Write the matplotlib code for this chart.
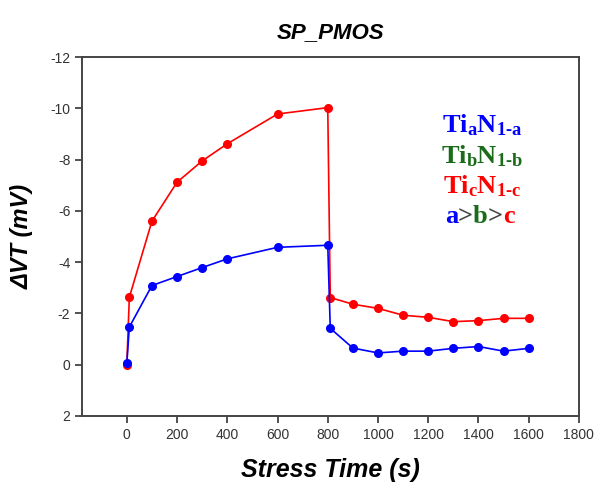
import matplotlib
matplotlib.use('Agg')
import matplotlib.pyplot as plt
from matplotlib.offsetbox import TextArea, HPacker, AnchoredOffsetbox

plt.rcParams['font.family'] = ['Liberation Sans', 'DejaVu Sans']
plt.rcParams['axes.unicode_minus'] = False
plt.rcParams['mathtext.fontset'] = 'custom'
plt.rcParams['mathtext.rm'] = 'Liberation Serif:bold'
plt.rcParams['mathtext.bf'] = 'Liberation Serif:bold'
plt.rcParams['mathtext.it'] = 'Liberation Serif:bold'

# stress time (s)
time = [0, 10, 100, 200, 300, 400, 600, 800, 810, 900, 1000, 1100, 1200, 1300, 1400, 1500, 1600]
# delta VT (mV)
dvt_a = [-0.05, -1.47, -3.09, -3.44, -3.79, -4.13, -4.58, -4.66, -1.42, -0.65, -0.46, -0.53, -0.53, -0.64, -0.71, -0.53, -0.64]
dvt_c = [0.0, -2.63, -5.6, -7.12, -7.95, -8.62, -9.78, -10.03, -2.62, -2.36, -2.2, -1.93, -1.85, -1.68, -1.72, -1.81, -1.81]

xticks = [0, 200, 400, 600, 800, 1000, 1200, 1400, 1600, 1800]
yticks = [-12, -10, -8, -6, -4, -2, 0, 2]

labels = [(r'$\mathrm{Ti_{a}N_{1\text{-}a}}$', '#0000ff'),
          (r'$\mathrm{Ti_{b}N_{1\text{-}b}}$', '#1a6b1a'),
          (r'$\mathrm{Ti_{c}N_{1\text{-}c}}$', '#ff0000')]

fig = plt.figure(figsize=(5.95, 4.84), dpi=100)
ax = fig.add_axes([0.138, 0.1405, 0.835, 0.7415])

ax.plot(time, dvt_c, '-o', color='#ff0000', lw=1.2, markersize=5.5)
ax.plot(time, dvt_a, '-o', color='#0000ff', lw=1.2, markersize=5.5)

ax.set_xlim(-178, 1800)
ax.set_ylim(2, -12)
ax.set_xticks(xticks)
ax.set_yticks(yticks)
ax.tick_params(direction='out', length=5, width=1.2, labelsize=10,
               colors='#333333', top=False, right=False)
for s in ax.spines.values():
    s.set_linewidth(1.4)
    s.set_color('#444444')

ax.set_title('SP_PMOS', fontsize=16, fontweight='bold', fontstyle='italic', pad=14)
ax.set_xlabel('Stress Time (s)', fontsize=18, fontweight='bold', fontstyle='italic', labelpad=12)
ax.set_ylabel(r'ΔVT (mV)', fontsize=17, fontweight='bold', fontstyle='italic', labelpad=12)

# composition labels
for i, (txt, col) in enumerate(labels):
    ax.text(0.805, 0.81 - 0.085 * i, txt, transform=ax.transAxes,
            color=col, fontsize=19, ha='center', va='center')

parts = [('a', '#0000ff'), ('>', '#444444'), ('b', '#1a6b1a'), ('>', '#444444'), ('c', '#ff0000')]
boxes = [TextArea(t, textprops=dict(color=c, fontsize=19, fontweight='bold',
                                    family='Liberation Serif')) for t, c in parts]
pack = HPacker(children=boxes, pad=0, sep=0, align='baseline')
anch = AnchoredOffsetbox(loc='center', child=pack, frameon=False,
                         bbox_to_anchor=(0.8, 0.555), bbox_transform=ax.transAxes,
                         borderpad=0, pad=0)
ax.add_artist(anch)

fig.savefig('out.png', dpi=100)
